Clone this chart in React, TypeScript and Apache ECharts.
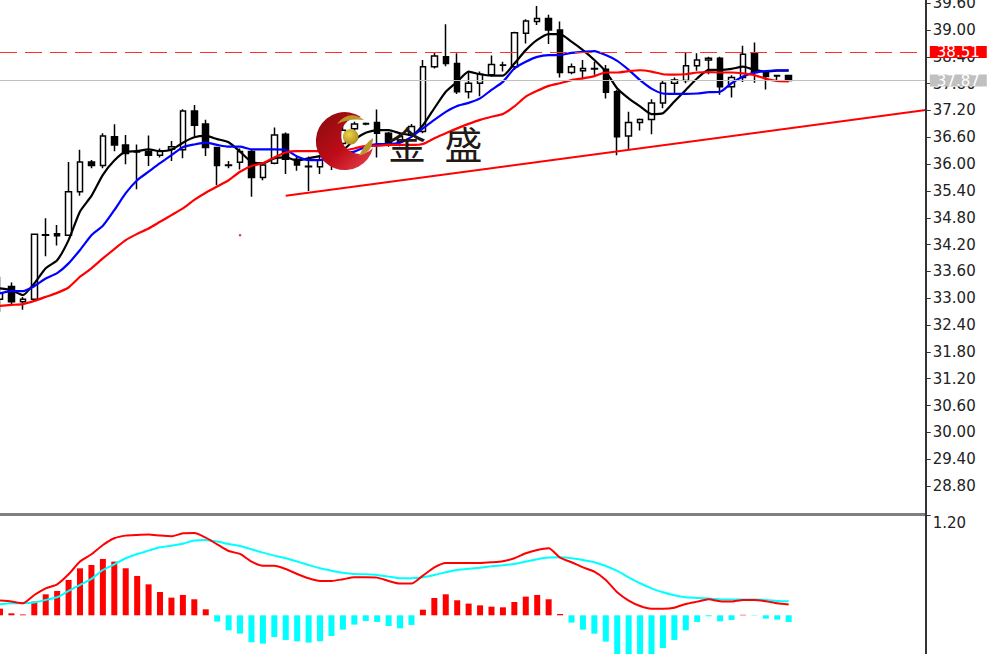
import React, { useEffect, useRef } from "react";
import * as echarts from "echarts";

// Category slots: 70 traded bars plus empty room up to the price scale
const categories = Array.from({ length: 82 }, (_, i) => String(i));

const opens = [32.98,33.26,32.92,32.98,34.41,34.44,34.41,35.38,36.05,35.97,36.61,36.43,36.28,36.28,36.20,36.33,36.32,37.19,36.90,36.37,35.97,36.04,36.28,35.70,36.02,36.67,36.11,35.94,35.94,36.02,36.46,36.79,36.91,36.93,36.69,36.50,36.65,36.73,38.18,38.40,38.25,37.62,37.81,38.00,38.22,38.18,38.93,39.19,39.26,39.00,38.05,38.09,38.14,38.12,37.62,36.63,36.93,37.00,37.37,37.81,37.87,38.20,38.33,38.37,37.73,37.94,38.48,38.05,37.97,37.98];
const closes = [33.11,32.92,32.98,34.43,34.42,34.40,35.38,36.05,35.97,36.63,36.43,36.24,36.27,36.20,36.30,36.39,37.19,36.87,36.37,35.97,35.98,36.28,35.70,35.98,36.65,36.11,35.98,35.95,36.09,36.14,36.76,36.90,36.90,36.69,36.46,36.62,36.84,38.18,38.42,38.25,37.62,37.81,38.01,38.23,38.21,38.94,39.20,39.26,39.00,38.05,38.18,38.14,38.13,37.61,36.61,36.93,37.00,37.37,37.81,37.88,38.20,38.33,38.37,37.73,37.94,38.46,38.05,37.96,37.98,37.87];
const lows = [32.70,32.87,32.74,32.96,33.94,34.18,34.39,35.29,35.91,35.91,36.29,36.00,35.44,35.96,36.15,36.07,36.13,36.61,36.18,35.53,35.91,35.88,35.27,35.64,36.00,35.78,35.85,35.40,35.78,35.87,36.31,36.73,36.87,36.15,36.39,36.40,36.60,36.69,38.14,38.19,37.57,37.47,37.52,37.96,38.07,38.11,38.70,39.11,38.69,37.94,38.01,37.90,38.00,37.47,36.20,36.31,36.75,36.67,37.25,37.57,37.81,38.09,38.01,37.55,37.49,37.84,37.82,37.67,37.84,37.85];
const highs = [33.48,33.35,33.03,34.45,34.79,34.64,36.05,36.32,36.09,36.69,36.89,36.65,36.44,36.64,36.35,36.52,37.23,37.32,36.99,36.39,36.07,36.35,36.32,36.02,36.82,36.71,36.17,36.17,36.20,36.20,36.87,36.95,36.93,37.22,36.72,36.70,36.90,38.33,38.51,39.13,38.48,38.05,38.07,38.43,38.29,38.96,39.24,39.54,39.34,39.19,38.25,38.33,38.29,38.22,37.66,37.17,37.02,37.45,37.88,37.94,38.51,38.48,38.40,38.40,37.99,38.65,38.72,38.07,38.00,38.00];

const maFast = [33.22,33.18,33.07,33.33,33.67,33.85,34.30,34.94,35.29,35.76,36.08,36.28,36.29,36.33,36.29,36.32,36.48,36.60,36.63,36.56,36.49,36.28,36.05,36.02,36.13,36.15,36.08,36.13,36.18,36.16,36.31,36.54,36.70,36.76,36.76,36.69,36.65,36.87,37.25,37.62,37.84,38.07,38.01,37.98,37.98,38.25,38.55,38.78,38.91,38.91,38.74,38.55,38.33,38.07,37.69,37.47,37.29,37.12,37.14,37.40,37.66,37.92,38.11,38.11,38.13,38.18,38.11,38.07,38.09,38.09];
const maMid = [33.11,33.16,33.16,33.27,33.44,33.56,33.78,34.08,34.41,34.62,34.97,35.35,35.64,35.83,36.02,36.20,36.38,36.44,36.48,36.43,36.39,36.39,36.33,36.33,36.33,36.32,36.17,36.09,36.09,36.17,36.24,36.28,36.39,36.45,36.45,36.48,36.61,36.80,36.99,37.17,37.30,37.37,37.47,37.66,37.84,38.14,38.29,38.40,38.44,38.44,38.49,38.51,38.53,38.44,38.31,38.11,37.88,37.69,37.58,37.57,37.57,37.58,37.61,37.62,37.81,37.96,38.05,38.08,38.10,38.10];
const maSlow = [32.83,32.85,32.87,32.94,33.03,33.12,33.24,33.48,33.67,33.89,34.10,34.30,34.44,34.56,34.71,34.86,35.01,35.20,35.36,35.50,35.64,35.83,35.96,36.02,36.15,36.26,36.29,36.29,36.29,36.28,36.30,36.35,36.41,36.41,36.43,36.43,36.43,36.45,36.58,36.69,36.80,36.90,36.99,37.06,37.12,37.29,37.51,37.64,37.75,37.81,37.88,37.92,37.97,38.05,38.05,38.08,38.10,38.07,38.01,38.00,38.01,38.05,38.06,38.05,38.05,38.03,37.99,37.91,37.86,37.85];

const macdHist = [0.08,0.024,0.01,0.165,0.253,0.293,0.426,0.566,0.606,0.679,0.647,0.566,0.474,0.373,0.281,0.213,0.245,0.193,0.072,-0.076,-0.181,-0.221,-0.325,-0.341,-0.261,-0.297,-0.313,-0.329,-0.313,-0.249,-0.173,-0.112,-0.068,-0.08,-0.129,-0.157,-0.116,0.068,0.209,0.253,0.181,0.141,0.12,0.104,0.096,0.161,0.225,0.245,0.193,0.016,-0.088,-0.173,-0.221,-0.317,-0.518,-0.518,-0.518,-0.518,-0.394,-0.297,-0.181,-0.08,-0.012,-0.072,-0.056,0.006,-0.004,-0.04,-0.052,-0.08];
const macdLine = [0.177,0.165,0.145,0.245,0.325,0.373,0.494,0.647,0.735,0.847,0.928,0.96,0.968,0.972,0.96,0.952,0.988,0.992,0.936,0.855,0.775,0.739,0.647,0.598,0.598,0.558,0.498,0.446,0.414,0.414,0.434,0.458,0.458,0.454,0.414,0.382,0.382,0.478,0.578,0.631,0.631,0.631,0.631,0.639,0.651,0.687,0.747,0.787,0.807,0.695,0.639,0.578,0.526,0.426,0.277,0.177,0.112,0.08,0.08,0.092,0.137,0.165,0.193,0.169,0.165,0.185,0.185,0.169,0.145,0.129];
const signalLine = [0.133,0.145,0.145,0.153,0.185,0.217,0.293,0.365,0.438,0.546,0.614,0.687,0.739,0.779,0.819,0.839,0.863,0.9,0.908,0.888,0.859,0.835,0.795,0.755,0.719,0.687,0.647,0.606,0.566,0.538,0.514,0.498,0.494,0.486,0.466,0.446,0.446,0.458,0.486,0.518,0.546,0.562,0.574,0.59,0.602,0.618,0.647,0.675,0.695,0.699,0.687,0.667,0.639,0.594,0.534,0.458,0.386,0.325,0.277,0.241,0.217,0.209,0.201,0.193,0.189,0.189,0.189,0.185,0.173,0.169];

const resistancePrice = 38.51;
const lastPrice = 37.87;
const trendStart = { slot: 25, price: 35.29 };
const trendEnd = { slot: 81, price: 37.21 };
const strayPoint = { slot: 21, price: 34.41 };
const macdTick = [1.2];
const logoWords = ["金", "盛"];

echarts.graphic.registerShape(
  "logoCrescent",
  echarts.graphic.extendPath("M361 117A29 29 0 1 0 373 148A18.5 18.5 0 1 1 361 117Z", {})
);
echarts.graphic.registerShape(
  "logoWingTop",
  echarts.graphic.extendPath("M337 124Q349 109 364 120Q350 118 337 124Z", {})
);
echarts.graphic.registerShape(
  "logoWingLow",
  echarts.graphic.extendPath("M359 156Q373 152 373 138Q364 144 359 156Z", {})
);

const AXIS_FONT = "DejaVu Sans";
const gold = new echarts.graphic.RadialGradient(0.4, 0.35, 0.7, [
  { offset: 0, color: "#f0d44a" },
  { offset: 1, color: "#a98a1e" },
]);

export default function App() {
  const ref = useRef<HTMLDivElement>(null);

  useEffect(() => {
    if (!ref.current) return;
    const chart = echarts.init(ref.current, undefined, { renderer: "svg" });
    const tagLabel = (background: string) => ({
      show: true,
      position: "end" as const,
      distance: 4,
      color: "#ffffff",
      fontFamily: AXIS_FONT,
      fontSize: 15,
      lineHeight: 12,
      backgroundColor: background,
      padding: [0, 7, 0, 7],
      formatter: (p: any) => Number(p.value).toFixed(2),
    });
    const dashStyle = { color: "#ff3030", width: 1, type: [17, 8] };
    const lastStyle = { color: "#c0c0c0", width: 1, type: "solid" };
    const trendStyle = { color: "#ff0000", width: 2, type: "solid" };
    const maLine = (data: number[], color: string) => ({
      type: "line",
      xAxisIndex: 0,
      yAxisIndex: 0,
      data,
      smooth: 0.2,
      showSymbol: false,
      lineStyle: { color, width: 2.2 },
    });
    const macdSeriesLine = (data: number[], color: string) => ({
      type: "line",
      xAxisIndex: 1,
      yAxisIndex: 1,
      data,
      smooth: 0.2,
      showSymbol: false,
      lineStyle: { color, width: 2 },
    });

    chart.setOption({
      animation: false,
      backgroundColor: "#ffffff",
      grid: [
        { left: -5.715, width: 937.26, top: 3.2, height: 509.6, outerBoundsMode: "none" },
        { left: -5.715, width: 937.26, top: 515.7, height: 149.4, outerBoundsMode: "none" },
      ],
      xAxis: [
        { type: "category", gridIndex: 0, data: categories, show: false },
        { type: "category", gridIndex: 1, data: categories, show: false },
      ],
      yAxis: [
        {
          type: "value",
          gridIndex: 0,
          position: "right",
          offset: -5.8,
          min: 28.2,
          max: 39.6,
          interval: 0.6,
          splitLine: { show: false },
          axisLine: { show: true, lineStyle: { color: "#333333", width: 2 } },
          axisTick: { show: true, length: 5, lineStyle: { color: "#333333" } },
          axisLabel: {
            margin: 7,
            showMinLabel: false,
            color: "#222222",
            fontFamily: AXIS_FONT,
            fontSize: 15,
            formatter: (v: number) => v.toFixed(2),
          },
        },
        {
          type: "value",
          gridIndex: 1,
          position: "right",
          offset: -5.8,
          min: -0.6,
          max: 1.2,
          splitLine: { show: false },
          axisLine: { show: true, lineStyle: { color: "#333333", width: 2 } },
          axisTick: { show: true, length: 5, customValues: macdTick, lineStyle: { color: "#333333" } },
          axisLabel: {
            margin: 7,
            customValues: macdTick,
            verticalAlign: "top",
            color: "#222222",
            fontFamily: AXIS_FONT,
            fontSize: 15,
            formatter: (v: number) => v.toFixed(2),
          },
        },
      ],
      series: [
        {
          type: "candlestick",
          xAxisIndex: 0,
          yAxisIndex: 0,
          barWidth: 6,
          data: opens.map((o, i) => [o, closes[i], lows[i], highs[i]]),
          itemStyle: {
            color: "#ffffff",
            color0: "#000000",
            borderColor: "#000000",
            borderColor0: "#000000",
            borderColorDoji: "#000000",
            borderWidth: 1.5,
          },
        },
        maLine(maFast, "#000000"),
        maLine(maMid, "#0000ff"),
        maLine(maSlow, "#ff0000"),
        {
          type: "scatter",
          xAxisIndex: 0,
          yAxisIndex: 0,
          symbolSize: 2.5,
          itemStyle: { color: "#ff0000" },
          data: [[categories[strayPoint.slot], strayPoint.price]],
          z: 3,
          markLine: {
            silent: true,
            symbol: "none",
            animation: false,
            z: 6,
            data: [
              [
                {
                  coord: [categories[trendStart.slot], trendStart.price],
                  lineStyle: trendStyle,
                  label: { show: false },
                },
                { coord: [categories[trendEnd.slot], trendEnd.price], lineStyle: trendStyle },
              ],
              [
                {
                  coord: [categories[0], lastPrice],
                  value: lastPrice,
                  lineStyle: lastStyle,
                  label: tagLabel("#c0c0c0"),
                },
                { coord: [categories[81], lastPrice], lineStyle: lastStyle },
              ],
              [
                {
                  coord: [categories[0], resistancePrice],
                  value: resistancePrice,
                  lineStyle: dashStyle,
                  label: tagLabel("#ff0000"),
                },
                { coord: [categories[81], resistancePrice], lineStyle: dashStyle },
              ],
            ],
          },
        },
        {
          type: "bar",
          xAxisIndex: 1,
          yAxisIndex: 1,
          barWidth: 6,
          data: macdHist,
          itemStyle: { color: (p: any) => (p.value >= 0 ? "#ff0000" : "#00ffff") },
        },
        macdSeriesLine(signalLine, "#00ffff"),
        macdSeriesLine(macdLine, "#ff0000"),
      ],
      graphic: [
        { type: "rect", z: 50, shape: { x: 0, y: 513, width: 926, height: 3 }, style: { fill: "#808080" } },
        { type: "rect", z: 50, shape: { x: 925, y: 0, width: 2, height: 654 }, style: { fill: "#333333" } },
        {
          type: "logoCrescent",
          z: 100,
          x: 0,
          y: 0,
          style: {
            fill: new echarts.graphic.LinearGradient(0, 0.1, 0.9, 1, [
              { offset: 0, color: "#8a0c0e" },
              { offset: 0.55, color: "#bf0c18" },
              { offset: 1, color: "#e4404a" },
            ]),
          },
        },
        { type: "logoWingTop", z: 100, x: 0, y: 0, style: { fill: "#b8982c" } },
        { type: "logoWingLow", z: 100, x: 0, y: 0, style: { fill: "#b8982c" } },
        { type: "circle", z: 100, shape: { cx: 350.7, cy: 136.7, r: 7.8 }, style: { fill: gold } },
        {
          type: "text",
          z: 100,
          style: { text: logoWords[0], x: 407, y: 142, align: "center", verticalAlign: "middle", fill: "#221814", font: '38px "Noto Sans CJK SC"' },
        },
        {
          type: "text",
          z: 100,
          style: { text: logoWords[1], x: 463.5, y: 142, align: "center", verticalAlign: "middle", fill: "#221814", font: '38px "Noto Sans CJK SC"' },
        },
      ],
    });
    return () => chart.dispose();
  }, []);

  return (
    <div
      ref={ref}
      style={{ position: "absolute", left: 0, top: 0, width: 989, height: 654, overflow: "hidden", background: "#fff" }}
    />
  );
}
